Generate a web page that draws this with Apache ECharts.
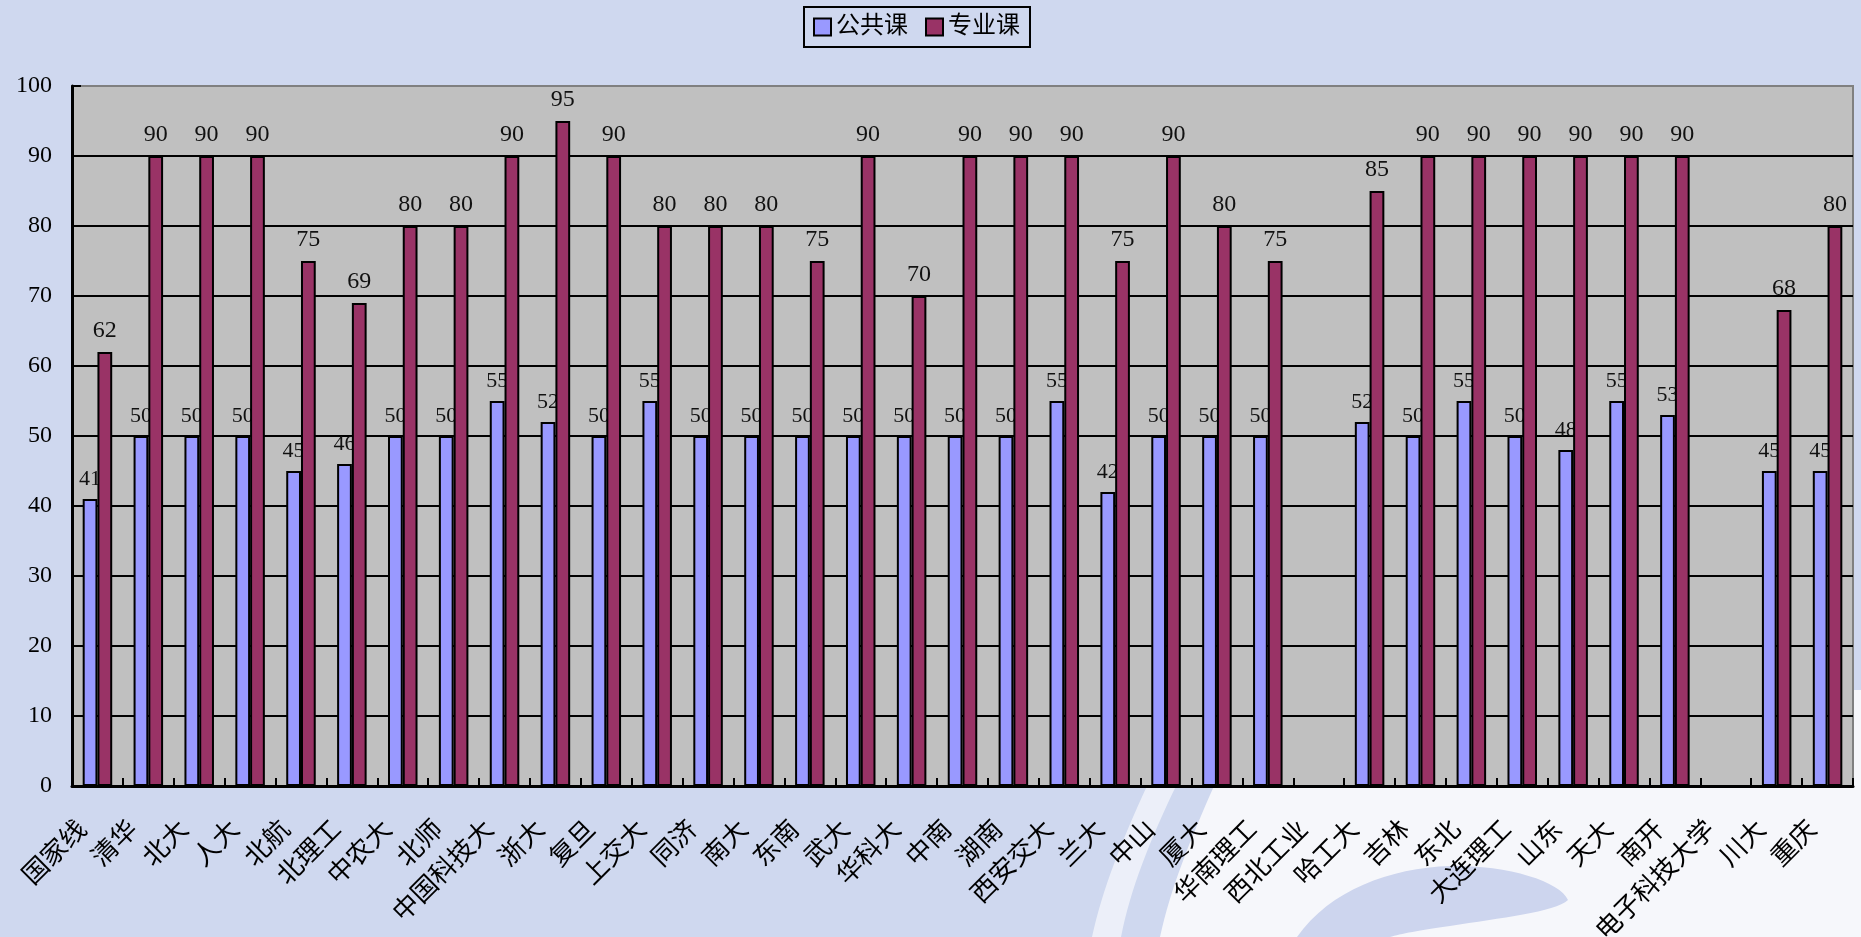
<!DOCTYPE html>
<html>
<head>
<meta charset="utf-8">
<title>公共课 / 专业课</title>
<script src="https://cdn.jsdelivr.net/npm/echarts@6/dist/echarts.min.js"></script>
<style>
  html, body { margin: 0; padding: 0; background: #cfd8ef; }
  #chart { width: 1861px; height: 937px; }
</style>
</head>
<body>
<div id="chart"></div>
<script>
// School names along the category axis
const schools = ['国家线', '清华', '北大', '人大', '北航', '北理工', '中农大', '北师', '中国科技大', '浙大',
  '复旦', '上交大', '同济', '南大', '东南', '武大', '华科大', '中南', '湖南', '西安交大',
  '兰大', '中山', '厦大', '华南理工', '西北工业', '哈工大', '吉林', '东北', '大连理工', '山东',
  '天大', '南开', '电子科技大学', '川大', '重庆'];

// 公共课 scores (null = no line published)
const publicCourse = [41, 50, 50, 50, 45, 46, 50, 50, 55, 52,
  50, 55, 50, 50, 50, 50, 50, 50, 50, 55,
  42, 50, 50, 50, null, 52, 50, 55, 50, 48,
  55, 53, null, 45, 45];

// 专业课 scores
const majorCourse = [62, 90, 90, 90, 75, 69, 80, 80, 90, 95,
  90, 80, 80, 80, 75, 90, 70, 90, 90, 90,
  75, 90, 80, 75, null, 85, 90, 90, 90, 90,
  90, 90, null, 68, 80];

const seriesNames = ['公共课', '专业课'];
const yTicks = { min: 0, max: 100, interval: 10 };

const FONT = "'Liberation Serif', 'Noto Sans CJK SC', serif";

// Outline builder for the decorative backdrop: straight segments and cubic curves
function outline(start, segments) {
  const pts = [start];
  let cur = start;
  segments.forEach(function (seg) {
    if (seg.length === 1) {
      pts.push(seg[0]);
      cur = seg[0];
    } else {
      const p0 = cur, p1 = seg[0], p2 = seg[1], p3 = seg[2];
      for (let i = 1; i <= 16; i++) {
        const t = i / 16, u = 1 - t;
        pts.push([
          u * u * u * p0[0] + 3 * u * u * t * p1[0] + 3 * u * t * t * p2[0] + t * t * t * p3[0],
          u * u * u * p0[1] + 3 * u * u * t * p1[1] + 3 * u * t * t * p2[1] + t * t * t * p3[1]
        ]);
      }
      cur = p3;
    }
  });
  return pts;
}

const arcBand = outline([1147, 786], [
  [[1176, 786]],
  [[1150, 840], [1130, 890], [1121, 937]],
  [[1092, 937]],
  [[1102, 890], [1122, 840], [1147, 786]]
]);
const lightArea = outline([1214, 786], [
  [[1853, 786]], [[1853, 690]], [[1861, 690]], [[1861, 937]], [[1160, 937]],
  [[1170, 890], [1190, 840], [1214, 786]]
]);
const swoosh = outline([1297, 937], [
  [[1330, 890], [1390, 868], [1450, 866]],
  [[1510, 865], [1560, 882], [1568, 900]],
  [[1555, 912], [1500, 918], [1450, 926]],
  [[1420, 930], [1400, 934], [1390, 937]]
]);

const chart = echarts.init(document.getElementById('chart'), null, { renderer: 'canvas' });

// gridlines: black, except the top border which is grey
const splitColors = [];
for (let v = yTicks.min; v <= yTicks.max; v += yTicks.interval) {
  splitColors.push(v === yTicks.max ? '#808080' : '#000000');
}

chart.setOption({
  backgroundColor: '#cfd8ef',
  animation: false,
  textStyle: { fontFamily: FONT },
  graphic: {
    elements: [
      { type: 'polygon', z: -10, silent: true, shape: { points: arcBand }, style: { fill: 'rgba(255,255,255,0.6)' } },
      { type: 'polygon', z: -10, silent: true, shape: { points: lightArea }, style: { fill: '#f6f7fb' } },
      { type: 'polygon', z: -9, silent: true, shape: { points: swoosh }, style: { fill: '#cdd5ee' } }
    ]
  },
  legend: {
    data: seriesNames,
    left: 804,
    top: 7,
    padding: [8, 10, 8, 9],
    itemGap: 17,
    itemWidth: 17,
    itemHeight: 17,
    borderColor: '#000',
    borderWidth: 2,
    itemStyle: { borderColor: '#000', borderWidth: 2 },
    textStyle: { fontSize: 24, color: '#000', fontFamily: FONT },
    icon: 'rect'
  },
  grid: {
    left: 72,
    right: 8,
    top: 86,
    bottom: 151,
    show: true,
    backgroundColor: '#c0c0c0',
    borderColor: '#808080',
    borderWidth: 2,
    containLabel: false,
    outerBoundsMode: 'none'
  },
  xAxis: {
    type: 'category',
    data: schools,
    boundaryGap: true,
    axisLine: { show: true, lineStyle: { color: '#000', width: 3 } },
    axisTick: { show: true, inside: true, length: 8, alignWithLabel: false, lineStyle: { color: '#000', width: 2 } },
    axisLabel: {
      interval: 0,
      rotate: 45,
      fontSize: 26,
      color: '#000',
      fontFamily: FONT,
      margin: 26,
      padding: [0, 20, 0, 0],
      hideOverlap: false
    },
    splitLine: { show: false }
  },
  yAxis: {
    type: 'value',
    min: yTicks.min,
    max: yTicks.max,
    interval: yTicks.interval,
    axisLine: { show: true, lineStyle: { color: '#000', width: 3 } },
    axisTick: { show: true, inside: true, length: 9, lineStyle: { color: '#000', width: 2 } },
    axisLabel: { fontSize: 24, color: '#000', fontFamily: FONT, margin: 20 },
    splitLine: { show: true, lineStyle: { color: splitColors, width: 2 } }
  },
  series: [
    {
      name: seriesNames[0],
      type: 'bar',
      data: publicCourse,
      z: 2,
      barGap: '0%',
      barCategoryGap: '42%',
      itemStyle: { color: '#9999ff', borderColor: '#000', borderWidth: 2 },
      label: { show: true, position: 'top', distance: 9, fontSize: 22, color: '#111', fontFamily: FONT }
    },
    {
      name: seriesNames[1],
      type: 'bar',
      data: majorCourse,
      z: 3,
      barGap: '0%',
      barCategoryGap: '42%',
      itemStyle: { color: '#993366', borderColor: '#000', borderWidth: 2 },
      label: { show: true, position: 'top', distance: 9, fontSize: 24, color: '#111', fontFamily: FONT }
    }
  ]
});
</script>
</body>
</html>
